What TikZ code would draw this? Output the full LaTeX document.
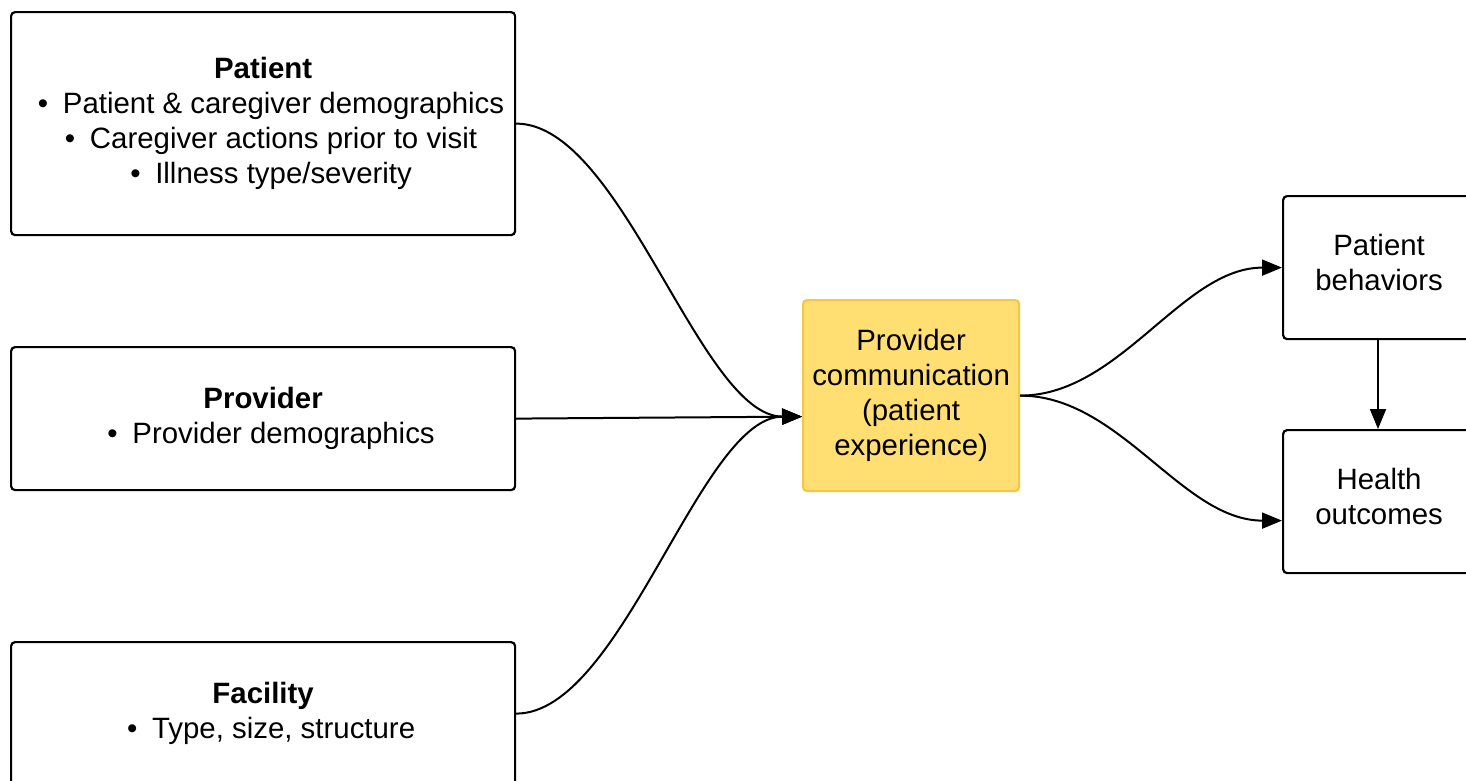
\documentclass[tikz,border=0pt]{standalone}
\usepackage{fontspec}
\setmainfont{Liberation Sans}
\usetikzlibrary{arrows.meta,calc}
\definecolor{hlfill}{HTML}{FFDF71}
\definecolor{hldraw}{HTML}{F6C644}
\tikzset{
  box/.style={draw=black, line width=2.2pt, rounded corners=4pt, fill=white,
    align=center, inner sep=0pt, anchor=north west,
    font=\fontsize{29.4}{35}\selectfont},
  hlbox/.style={box, draw=hldraw, fill=hlfill},
  link/.style={line width=2pt, -{Triangle[length=20pt,width=16pt]}}
}
% a bulleted line, set a little to the right as in an indented list
\newcommand{\itm}[1]{\textbullet\hspace{0.5em}#1\kern-16pt}
\begin{document}
\begin{tikzpicture}[x=1pt,y=-1pt]
  \clip (0,0) rectangle (1466,780);
  \fill[white] (0,0) rectangle (1466,780);

  % factor boxes on the left
  \node[box, minimum width=504pt, minimum height=223pt] (patient) at (10,11)
    {\textbf{Patient}\\ \itm{Patient \& caregiver demographics}\\ \itm{Caregiver actions prior to visit}\\ \itm{Illness type/severity}};
  \node[box, minimum width=504pt, minimum height=143pt] (provider) at (10,346)
    {\textbf{Provider}\\ \itm{Provider demographics}};
  \node[box, minimum width=504pt, minimum height=143pt] (facility) at (10,641)
    {\textbf{Facility}\\ \itm{Type, size, structure}};

  % central box
  \node[hlbox, minimum width=216pt, minimum height=191pt] (comm) at (802,299)
    {Provider\\ communication\\ (patient\\ experience)};

  % outcome boxes on the right
  \node[box, minimum width=192pt, minimum height=143pt] (behav) at (1282,195)
    {Patient\\ behaviors\\[-25pt]};
  \node[box, minimum width=192pt, minimum height=143pt] (health) at (1282,429)
    {Health\\ outcomes\\[-25pt]};

  % input point on the central box and on the outcomes box
  \coordinate (commin) at ($(comm.west)+(0,21)$);
  \coordinate (healthin) at ($(health.west)+(0,19)$);

  % connectors
  \draw[link] (patient.east) .. controls ($(patient.east)+(106,0)$) and ($(commin)+(-102,0)$) .. (commin);
  \draw[link] (provider.east) -- (commin);
  \draw[link] (facility.east) .. controls ($(facility.east)+(106,0)$) and ($(commin)+(-102,0)$) .. (commin);
  \draw[link] (comm.east) .. controls ($(comm.east)+(100,0)$) and ($(behav.west)+(-100,0)$) .. (behav.west);
  \draw[link] (comm.east) .. controls ($(comm.east)+(100,0)$) and ($(healthin)+(-100,0)$) .. (healthin);
  \draw[link] (behav.south -| 1378,0) -- (health.north -| 1378,0);
\end{tikzpicture}
\end{document}
